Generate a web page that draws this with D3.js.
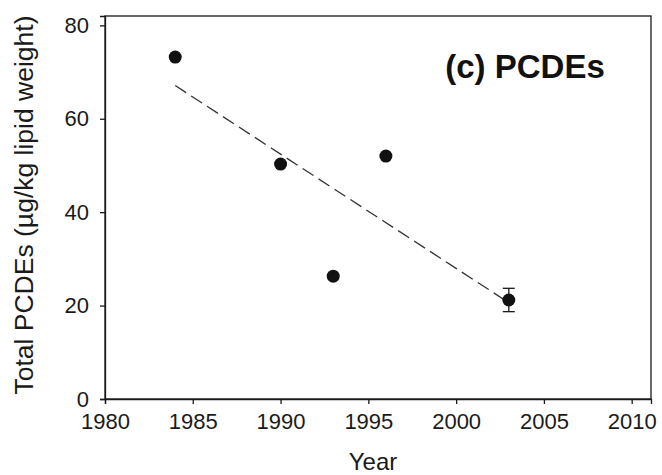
<!DOCTYPE html>
<html>
<head>
<meta charset="utf-8">
<script src="https://cdn.jsdelivr.net/npm/d3@7"></script>
<style>
  html, body { margin: 0; padding: 0; background: #fff; }
  svg { display: block; font-family: "Liberation Sans", Arial, sans-serif; }
</style>
</head>
<body>
<svg id="chart" width="662" height="475"></svg>
<script>
// Sampling years and total PCDE concentrations (µg/kg lipid weight)
const years = [1984, 1990, 1993, 1996, 2003];
const pcde = [73.2, 50.3, 26.3, 52.0, 21.2];
// Standard error, only reported for the 2003 sample
const errors = [0, 0, 0, 0, 2.5];

const xTicks = [1980, 1985, 1990, 1995, 2000, 2005, 2010];
const yTicks = [0, 20, 40, 60, 80];

const svg = d3.select("#chart");
const margin = { left: 105, right: 11, top: 16, bottom: 76 };
const W = 662, H = 475;

const x = d3.scaleLinear().domain([1980, 2011.1]).range([margin.left, W - margin.right]);
const y = d3.scaleLinear().domain([0, 82]).range([H - margin.bottom, margin.top]);

const ink = "#1a1a1a";

// Frame (top and right edges)
svg.append("rect")
  .attr("x", x(1980)).attr("y", y(82))
  .attr("width", x(2011.1) - x(1980)).attr("height", y(0) - y(82))
  .attr("fill", "none").attr("stroke", ink).attr("stroke-width", 1.3);

// Axes
const xAxis = svg.append("g")
  .attr("transform", `translate(0,${y(0)})`)
  .call(d3.axisBottom(x).tickValues(xTicks).tickFormat(d3.format("d")).tickSize(5).tickPadding(9));
const yAxis = svg.append("g")
  .attr("transform", `translate(${x(1980)},0)`)
  .call(d3.axisLeft(y).tickValues(yTicks).tickSize(5).tickPadding(11));

[xAxis, yAxis].forEach(g => {
  g.select(".domain").attr("stroke", ink).attr("stroke-width", 1.3);
  g.selectAll(".tick line").attr("stroke", ink).attr("stroke-width", 1.3);
  g.selectAll(".tick text")
    .attr("fill", "#1a1a1a")
    .style("font-size", "22px")
    .style("font-family", "'Liberation Sans', Arial, sans-serif");
});

// Least-squares trend line across the sampled years
const mx = d3.mean(years), my = d3.mean(pcde);
const sxy = d3.sum(years, (d, i) => (d - mx) * (pcde[i] - my));
const sxx = d3.sum(years, d => (d - mx) * (d - mx));
const slope = sxy / sxx, intercept = my - slope * mx;
const x0 = d3.min(years), x1 = d3.max(years);
svg.append("line")
  .attr("x1", x(x0)).attr("y1", y(intercept + slope * x0))
  .attr("x2", x(x1)).attr("y2", y(intercept + slope * x1))
  .attr("stroke", "#333").attr("stroke-width", 1.3)
  .attr("stroke-dasharray", "13,6");

// Error bars
const rows = years.map((yr, i) => ({ yr, v: pcde[i], e: errors[i] }));
const eb = svg.append("g").attr("stroke", ink).attr("stroke-width", 1.3);
rows.filter(d => d.e > 0).forEach(d => {
  eb.append("line").attr("x1", x(d.yr)).attr("x2", x(d.yr)).attr("y1", y(d.v - d.e)).attr("y2", y(d.v + d.e));
  [d.v - d.e, d.v + d.e].forEach(v => {
    eb.append("line").attr("x1", x(d.yr) - 6).attr("x2", x(d.yr) + 6).attr("y1", y(v)).attr("y2", y(v));
  });
});

// Data points
svg.append("g").selectAll("circle").data(rows).join("circle")
  .attr("cx", d => x(d.yr)).attr("cy", d => y(d.v))
  .attr("r", 6.5).attr("fill", "#111");

// Panel label
svg.append("text")
  .attr("x", 525).attr("y", 78)
  .attr("text-anchor", "middle")
  .style("font-size", "33px").style("font-weight", "bold")
  .attr("fill", "#111")
  .text("(c) PCDEs");

// Axis titles
svg.append("text")
  .attr("x", 373).attr("y", 470)
  .attr("text-anchor", "middle")
  .style("font-size", "24px").attr("fill", "#1a1a1a")
  .text("Year");

svg.append("text")
  .attr("transform", `translate(33,205) rotate(-90)`)
  .attr("text-anchor", "middle")
  .style("font-size", "26.5px").attr("fill", "#1a1a1a")
  .text("Total PCDEs (µg/kg lipid weight)");
</script>
</body>
</html>
